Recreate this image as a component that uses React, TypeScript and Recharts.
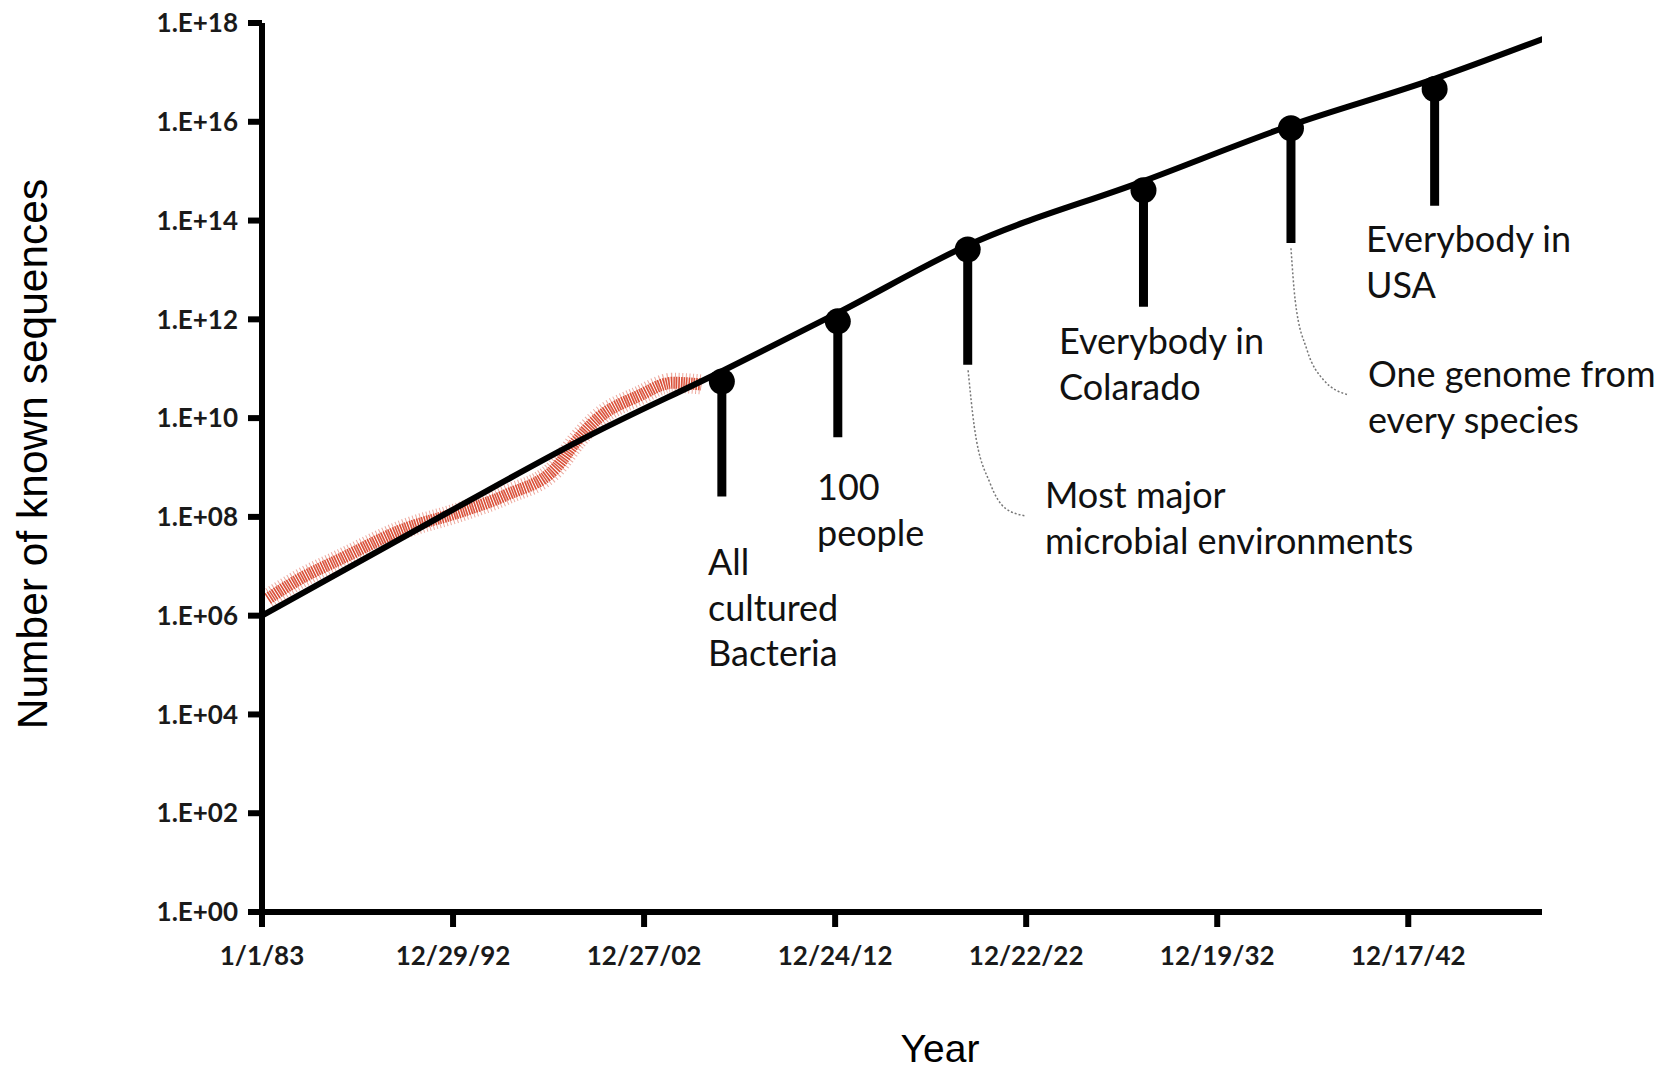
import React from "react";
import { ComposedChart, Line, Scatter, XAxis, YAxis, ReferenceLine } from "recharts";

// x axis: years, labelled with the dates from the original sheet
const yearTicks = [1983, 1993, 2003, 2013, 2023, 2033, 2043];
const yearTickLabels = ["1/1/83", "12/29/92", "12/27/02", "12/24/12", "12/22/22", "12/19/32", "12/17/42"];
const countTicks = [1, 1e2, 1e4, 1e6, 1e8, 1e10, 1e12, 1e14, 1e16, 1e18];

// projected growth (black line)
const trendYears = [1983, 1993, 2000, 2007.07, 2013.14, 2019.94, 2029.14, 2036.86, 2044.38, 2050];
const trendCounts = [1e6, 1.41e8, 4.17e9, 8.9e10, 1.35e12, 3.16e13, 6.3e14, 8.5e15, 7.4e16, 4.68e17];

// observed sequences (red band)
const observedYears = [1983.3, 1985.0, 1987.1, 1990.6, 1993.2, 1995.8, 1998.4, 1999.5, 2000.6, 2002.7, 2004.5, 2006.0];
const observedCounts = [2.2e6, 5.6e6, 1.4e7, 6.0e7, 1.2e8, 2.8e8, 1.0e9, 3.6e9, 1.0e10, 2.8e10, 5.2e10, 4.8e10];

// milestones
const milestoneNames = [
  "All cultured Bacteria",
  "100 people",
  "Most major microbial environments",
  "Everybody in Colarado",
  "One genome from every species",
  "Everybody in USA",
];
const milestoneYears = [2007.07, 2013.14, 2019.94, 2029.14, 2036.86, 2044.38];
const milestoneCounts = [5.5e10, 9.1e11, 2.6e13, 4.1e14, 7.4e15, 4.6e16];
const stemBottoms = [2.6e8, 4.1e9, 1.2e11, 1.8e12, 3.5e13, 2.0e14];

// dotted leader lines to the two labels that sit off their stems
const leaderAYears = [2019.96, 2020.28, 2021.12, 2021.9, 2022.95];
const leaderACounts = [9.3e10, 6.9e9, 4.7e8, 1.5e8, 1.05e8];
const leaderBYears = [2036.86, 2037.08, 2037.7, 2038.57, 2039.87];
const leaderBCounts = [2.75e13, 2.45e12, 2.4e11, 5.9e10, 2.95e10];

const trend = trendYears.map((x, i) => ({ x, y: trendCounts[i] }));
const observed = observedYears.map((x, i) => ({ x, y: observedCounts[i] }));
const milestones = milestoneYears.map((x, i) => ({
  name: milestoneNames[i],
  x,
  y: milestoneCounts[i],
  bottom: stemBottoms[i],
}));
const leaderA = leaderAYears.map((x, i) => ({ x, y: leaderACounts[i] }));
const leaderB = leaderBYears.map((x, i) => ({ x, y: leaderBCounts[i] }));

// label layout (pixels)
const notes = [
  { lines: ["All", "cultured", "Bacteria"], x: 708, y: 575 },
  { lines: ["100", "people"], x: 817, y: 500 },
  { lines: ["Most major", "microbial environments"], x: 1045, y: 508 },
  { lines: ["Everybody in", "Colarado"], x: 1059, y: 354 },
  { lines: ["Everybody in", "USA"], x: 1366, y: 252 },
  { lines: ["One genome from", "every species"], x: 1368, y: 387 },
];

const tickFont = { fontFamily: "Lato", fontSize: 26, fontWeight: 700, fill: "#1a1a1a" };

const fmtCount = (v: number) => {
  const e = Math.round(Math.log10(v));
  return "1.E+" + String(e).padStart(2, "0");
};
const fmtYear = (v: number) => {
  const i = yearTicks.indexOf(v);
  return i >= 0 ? yearTickLabels[i] : "";
};

const Dot = (props: any) => <circle cx={props.cx} cy={props.cy} r={13} fill="#000" />;

export default function App() {
  return (
    <div style={{ position: "absolute", left: 0, top: 0, width: 1669, height: 1071, background: "#fff" }}>
      <ComposedChart width={1669} height={1071} margin={{ top: 23, right: 127, bottom: 0, left: 0 }}>
        <XAxis
          type="number"
          dataKey="x"
          domain={[1983, 2050]}
          allowDataOverflow
          ticks={yearTicks}
          interval={0}
          tickFormatter={fmtYear}
          height={159}
          tickSize={15}
          tickMargin={20}
          tick={tickFont}
          axisLine={{ stroke: "#000", strokeWidth: 6 }}
          tickLine={{ stroke: "#000", strokeWidth: 6 }}
        />
        <YAxis
          type="number"
          dataKey="y"
          scale="log"
          domain={[1, 1e18]}
          allowDataOverflow
          ticks={countTicks}
          interval={0}
          tickFormatter={fmtCount}
          width={262}
          tickSize={14}
          tickMargin={10}
          tick={tickFont}
          axisLine={{ stroke: "#000", strokeWidth: 6 }}
          tickLine={{ stroke: "#000", strokeWidth: 6 }}
        />
        <Line
          data={observed}
          dataKey="y"
          type="monotone"
          stroke="#d63f26"
          strokeOpacity={0.45}
          strokeWidth={20}
          strokeDasharray="1 2.5"
          dot={false}
          isAnimationActive={false}
        />
        <Line
          data={observed}
          dataKey="y"
          type="monotone"
          stroke="#d63f26"
          strokeOpacity={0.9}
          strokeWidth={12}
          strokeDasharray="1.5 1"
          dot={false}
          isAnimationActive={false}
        />
        <Line
          data={trend}
          dataKey="y"
          type="monotone"
          stroke="#000"
          strokeWidth={6}
          strokeLinecap="round"
          strokeLinejoin="round"
          dot={false}
          isAnimationActive={false}
        />
        {milestones.map((m) => (
          <ReferenceLine
            key={m.name}
            segment={[
              { x: m.x, y: m.bottom },
              { x: m.x, y: m.y },
            ]}
            stroke="#000"
            strokeWidth={9}
          />
        ))}
        <Line
          data={leaderA}
          dataKey="y"
          type="monotone"
          stroke="#777"
          strokeWidth={1.5}
          strokeDasharray="2 2"
          dot={false}
          isAnimationActive={false}
        />
        <Line
          data={leaderB}
          dataKey="y"
          type="monotone"
          stroke="#777"
          strokeWidth={1.5}
          strokeDasharray="2 2"
          dot={false}
          isAnimationActive={false}
        />
        <Scatter data={milestones} dataKey="y" shape={Dot} isAnimationActive={false} />
      </ComposedChart>
      <svg
        width={1669}
        height={1071}
        style={{ position: "absolute", left: 0, top: 0, pointerEvents: "none" }}
      >
        <text
          transform="rotate(-90, 32, 454)"
          x={32}
          y={454}
          textAnchor="middle"
          dominantBaseline="central"
          fontFamily="Liberation Sans, Arial, sans-serif"
          fontSize={42.5}
          fill="#000"
        >
          Number of known sequences
        </text>
        <text x={940} y={1062} textAnchor="middle" fontFamily="Liberation Sans, Arial, sans-serif" fontSize={39} fill="#000">
          Year
        </text>
        {notes.map((n, i) => (
          <text key={i} fontFamily="Lato" fontSize={36} fill="#111">
            {n.lines.map((l, j) => (
              <tspan key={j} x={n.x} y={n.y + j * 45.5}>
                {l}
              </tspan>
            ))}
          </text>
        ))}
      </svg>
    </div>
  );
}
